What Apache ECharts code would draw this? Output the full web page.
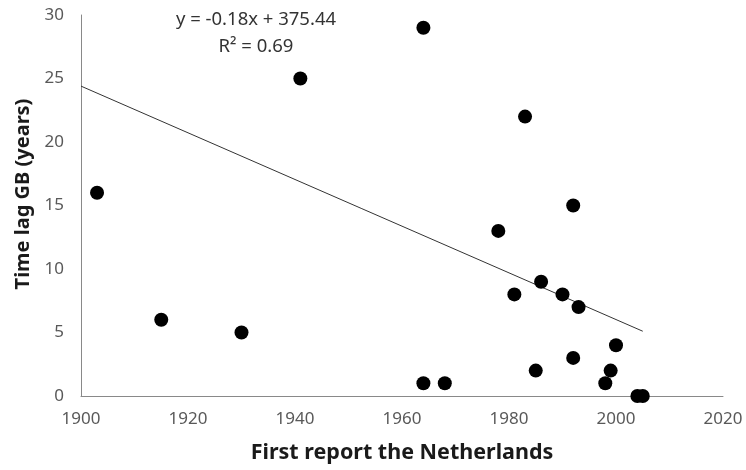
<!DOCTYPE html>
<html>
<head>
<meta charset="utf-8">
<script src="https://cdn.jsdelivr.net/npm/echarts@6/dist/echarts.min.js"></script>
<style>html,body{margin:0;padding:0;background:#fff}#c{width:746px;height:470px}</style>
</head>
<body>
<div id="c"></div>
<script>
const firstReportNL = [1903, 1915, 1930, 1941, 1964, 1964, 1968, 1983, 1978, 1992, 1986, 1981, 1990, 1993, 2000, 1992, 1985, 1999, 1998, 2004, 2005];
const timeLagGB     = [16,   6,    5,    25,   29,   1,    1,    22,   13,   15,   9,    8,    8,    7,    4,    3,    2,    2,    1,    0,    0];
const trendX = [1900, 2005];
const trendY = [24.4, 5.1];
const xTicks = [1900, 1920, 1940, 1960, 1980, 2000, 2020];
const yTicks = [0, 5, 10, 15, 20, 25, 30];
const equationText = 'y = -0.18x + 375.44';
const r2Text = 'R² = 0.69';
const xTitle = 'First report the Netherlands';
const yTitle = 'Time lag GB (years)';

const points = firstReportNL.map((x, i) => [x, timeLagGB[i]]);
const trend = trendX.map((x, i) => [x, trendY[i]]);

const chart = echarts.init(document.getElementById('c'), null, {renderer: 'canvas'});
const font = 'Noto Sans';
chart.setOption({
  animation: false,
  grid: {left: 81, right: 23, top: 15, bottom: 74, containLabel: false},
  xAxis: {
    type: 'value', min: xTicks[0], max: xTicks[xTicks.length - 1], interval: 20,
    name: xTitle, nameLocation: 'middle', nameGap: 46,
    nameTextStyle: {fontFamily: font, fontSize: 21.5, fontWeight: 'bold', color: '#1a1a1a'},
    axisLine: {lineStyle: {color: '#898989', width: 1}},
    axisTick: {show: false}, splitLine: {show: false},
    axisLabel: {fontFamily: font, fontSize: 17, color: '#595959', margin: 15, formatter: v => String(v)}
  },
  yAxis: {
    type: 'value', min: yTicks[0], max: yTicks[yTicks.length - 1], interval: 5,
    axisLine: {show: true, lineStyle: {color: '#898989', width: 1}},
    axisTick: {show: false}, splitLine: {show: false},
    axisLabel: {fontFamily: font, fontSize: 17, color: '#595959', margin: 17}
  },
  graphic: [
    {type: 'text', x: 256, y: 20, style: {text: equationText, fontFamily: font, fontSize: 18.5, fill: '#333', textAlign: 'center', textVerticalAlign: 'middle'}},
    {type: 'text', x: 256, y: 47, style: {text: r2Text, fontFamily: font, fontSize: 18.5, fill: '#333', textAlign: 'center', textVerticalAlign: 'middle'}},
    {type: 'text', x: 23, y: 194, rotation: Math.PI / 2, style: {text: yTitle, fontFamily: font, fontSize: 20, fontWeight: 'bold', fill: '#1a1a1a', textAlign: 'center', textVerticalAlign: 'middle'}}
  ],
  series: [
    {type: 'line', data: trend, symbol: 'none', lineStyle: {color: '#333', width: 1}, silent: true, z: 1},
    {type: 'scatter', data: points, symbol: 'circle', symbolSize: 14, itemStyle: {color: '#000', opacity: 1}, z: 2}
  ]
});
</script>
</body>
</html>
